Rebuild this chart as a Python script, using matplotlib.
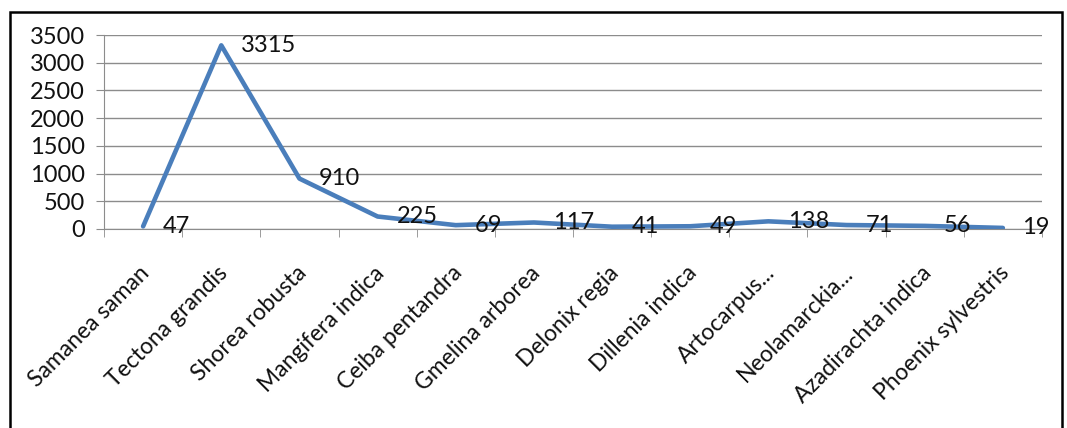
import matplotlib
matplotlib.use("Agg")
import matplotlib.pyplot as plt
from matplotlib.patches import Rectangle
import matplotlib.transforms as mtrans
import numpy as np

species = ["Samanea saman", "Tectona grandis", "Shorea robusta", "Mangifera indica",
           "Ceiba pentandra", "Gmelina arborea", "Delonix regia", "Dillenia indica",
           "Artocarpus...", "Neolamarckia...", "Azadirachta indica", "Phoenix sylvestris"]
counts = [47, 3315, 910, 225, 69, 117, 41, 49, 138, 71, 56, 19]
yticks = [0, 500, 1000, 1500, 2000, 2500, 3000, 3500]

plt.rcParams['font.family'] = ['Lato', 'DejaVu Sans']

fig = plt.figure(figsize=(10.67, 4.28), dpi=100)
ax = fig.add_axes([0.0975, 0.465, 0.879, 0.453])

x = np.arange(len(species))
ax.plot(x, counts, color='#4A7EBB', lw=3.3, solid_joinstyle='round', solid_capstyle='round', zorder=3)
for xi, v in zip(x, counts):
    ax.annotate(str(v), (xi, v), xytext=(14, 0), textcoords='offset points',
                ha='left', va='center', fontsize=17, color='#111111', clip_on=False, zorder=4)

ax.set_xlim(-0.5, len(species) - 0.5)
ax.set_ylim(0, 3500)
ax.set_yticks(yticks)
ax.set_yticklabels([str(t) for t in yticks], fontsize=17, color='#111111')
ax.yaxis.grid(True, color='#8c8c8c', lw=1)
ax.set_axisbelow(True)

ax.set_xticks(x)
ax.set_xticklabels(species, rotation=45, ha='right', rotation_mode='anchor', fontsize=16.5, color='#111111')
ax.tick_params(axis='x', which='major', length=0, pad=24)
shift = mtrans.ScaledTranslation(-4/100, 0, fig.dpi_scale_trans)
for lab in ax.get_xticklabels():
    lab.set_transform(lab.get_transform() + shift)
ax.set_xticks(np.arange(-0.5, len(species), 1), minor=True)
ax.tick_params(axis='x', which='minor', length=6, color='#8c8c8c', direction='out')
ax.tick_params(axis='y', length=6, color='#8c8c8c', pad=8)

for s in ['top', 'right']:
    ax.spines[s].set_visible(False)
ax.spines['left'].set_color('#8c8c8c')
ax.spines['bottom'].set_color('#8c8c8c')

fig.patches.append(Rectangle((10/1067, -0.05), 1052/1067, 1 - 12/428 + 0.05,
                             transform=fig.transFigure, fill=False, edgecolor='black', lw=1.8))

fig.savefig('out.png', dpi=100)
